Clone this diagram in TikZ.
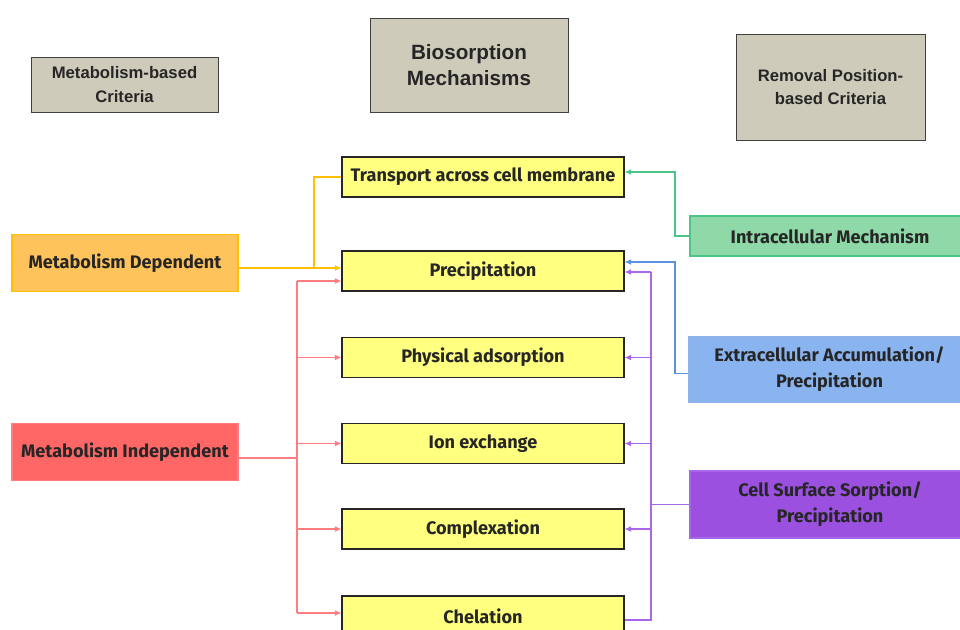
\documentclass[tikz,border=0pt]{standalone}
\usepackage{fontspec}
\setmainfont{Liberation Sans}
\newfontfamily\dinfont{Fira Sans}
\usepackage{tikz}
\usetikzlibrary{arrows,arrows.meta}
\usetikzlibrary{positioning,shadows}
\usepackage{xcolor}

\definecolor{hdrgray}{HTML}{CFCBBB}
\definecolor{mechyel}{HTML}{FFFF80}
\definecolor{depfill}{HTML}{FFC35C}
\definecolor{depline}{HTML}{FFC000}
\definecolor{indfill}{HTML}{FF6666}
\definecolor{indline}{HTML}{FF7C80}
\definecolor{intfill}{HTML}{8FD9A8}
\definecolor{intline}{HTML}{4CC686}
\definecolor{extfill}{HTML}{8AB4F0}
\definecolor{extline}{HTML}{5B92E0}
\definecolor{celfill}{HTML}{9B50E0}
\definecolor{celline}{HTML}{A866E8}
\definecolor{txtdark}{HTML}{262626}

\begin{document}
\begin{tikzpicture}[%
        x=0.75pt, y=-0.75pt,
        every node/.style={rectangle, inner sep=0pt, align=center, text=txtdark},
        hdr/.style={draw=black!75, line width=0.6pt, fill=hdrgray,
          drop shadow={shadow xshift=0.9pt, shadow yshift=-0.9pt, fill=black!70, opacity=1},
          font=\bfseries\fontsize{12.5}{17.5}\selectfont},
        mech/.style={draw=black!85, line width=0.8pt, fill=mechyel, minimum width=211.5pt,
          minimum height=30pt, font=\dinfont\bfseries\fontsize{13.6}{16}\selectfont},
        crit/.style={line width=0.8pt, minimum height=30pt, font=\dinfont\bfseries\fontsize{13.6}{19.5}\selectfont},
        lnk/.style={line width=0.8pt},
        >={Latex[length=5pt,width=4.5pt]}
      ]
      \useasboundingbox (0,0) rectangle (960,630);
      % header boxes
      \node [hdr, minimum width=140.25pt, minimum height=41.25pt] (mbc) at (124.5,84.5) {Metabolism-based\\Criteria};
      \node [hdr, minimum width=148.5pt, minimum height=70.5pt, font=\bfseries\fontsize{15.5}{19}\selectfont] (bio) at (469,65) {Biosorption\\Mechanisms};
      \node [hdr, minimum width=141.75pt, minimum height=79.5pt] (rpc) at (830.5,87) {Removal Position-\\based Criteria};
      % mechanisms
      \node [mech] (tcm) at (483,177) {Transport across cell membrane};
      \node [mech] (prec) at (483,271) {Precipitation};
      \node [mech] (phys) at (483,357.5) {Physical adsorption};
      \node [mech] (ion) at (483,443.5) {Ion exchange};
      \node [mech] (comp) at (483,529) {Complexation};
      \node [mech] (chel) at (483,616) {Chelation};
      % criteria
      \node [crit, draw=depline, fill=depfill, minimum width=169.5pt, minimum height=43pt] (dep) at (125,263) {Metabolism Dependent};
      \node [crit, draw=indline, fill=indfill, minimum width=169.5pt, minimum height=43pt] (indep) at (125,452) {Metabolism Independent};
      \node [crit, draw=intline, fill=intfill, minimum width=210pt] (intra) at (830,236) {Intracellular Mechanism};
      \node [crit, draw=extline!70, fill=extfill, minimum width=210.75pt, minimum height=48.75pt] (extra) at (829.5,369.5) {Extracellular Accumulation/\\Precipitation};
      \node [crit, draw=celline, fill=celfill, minimum width=210pt, minimum height=50.25pt] (cell) at (830,504.5) {Cell Surface Sorption/\\Precipitation};

      % metabolism dependent
      \coordinate (yj) at (314,268);
      \draw [lnk, depline, ->] (dep.east |- yj) -- (yj -| prec.west);
      \draw [lnk, depline] (yj) |- (tcm.west);

      % metabolism independent
      \coordinate (rj) at (297,458);
      \coordinate (rt) at (297,281);
      \coordinate (rb) at (297,613);
      \draw [lnk, indline] (indep.east |- rj) -- (rj);
      \draw [lnk, indline] (rt) -- (rb);
      \draw [lnk, indline, ->] (rt) -- (rt -| prec.west);
      \foreach \n in {phys,ion,comp}
        \draw [lnk, indline, ->] (rt |- \n.west) -- (\n.west);
      \draw [lnk, indline, ->] (rb) -- (rb -| chel.west);

      % intracellular
      \coordinate (gj) at (675,172);
      \draw [lnk, intline, ->] (intra.west) -| (gj) -- (gj -| tcm.east);

      % extracellular
      \coordinate (bj) at (675,262);
      \draw [lnk, extline, ->] ([yshift=-3pt]extra.west) -| (bj) -- (bj -| prec.east);

      % cell surface
      \coordinate (pt) at (651,272);
      \coordinate (pb) at (651,620);
      \draw [lnk, celline] (cell.west) -- (cell.west -| pt);
      \draw [lnk, celline] (pt) -- (pb) -- (pb -| chel.east);
      \draw [lnk, celline, ->] (pt) -- (pt -| prec.east);
      \foreach \n in {phys,ion,comp}
        \draw [lnk, celline, ->] (pt |- \n.east) -- (\n.east);
    \end{tikzpicture}
\end{document}
